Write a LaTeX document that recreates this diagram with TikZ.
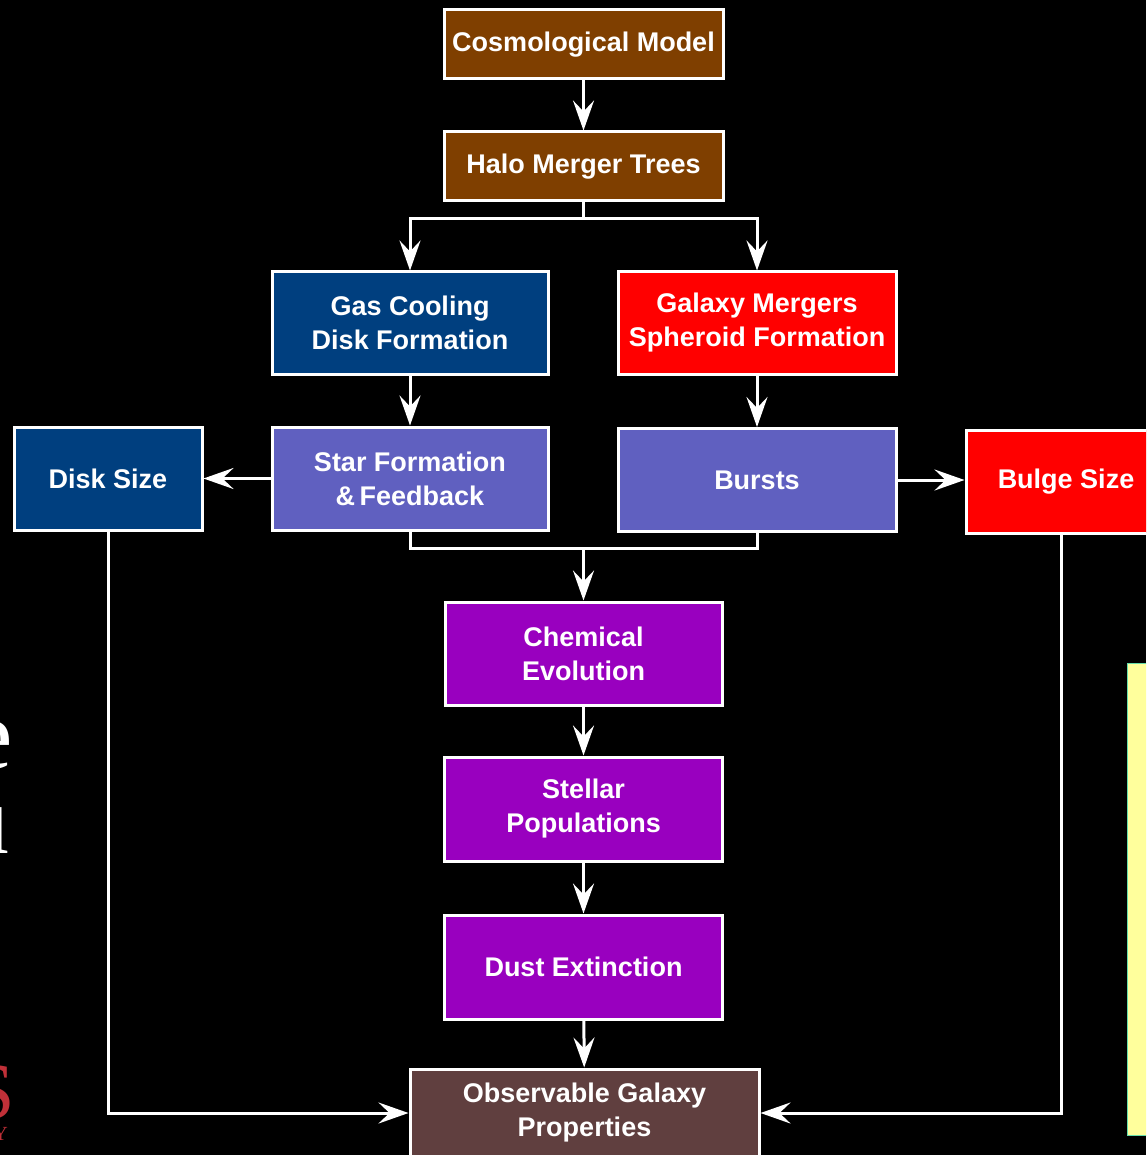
\documentclass[tikz,border=0pt]{standalone}
\usepackage{fontspec}
\setmainfont{Liberation Sans}
\newfontfamily\serifface{Liberation Serif}
\usetikzlibrary{arrows.meta}
\definecolor{cbrown}{HTML}{7F3F00}
\definecolor{cdblue}{HTML}{003F7F}
\definecolor{cred}{HTML}{FF0000}
\definecolor{cslate}{HTML}{6060C0}
\definecolor{cpurple}{HTML}{9900BF}
\definecolor{cobs}{HTML}{603F3F}
\definecolor{cyellow}{HTML}{FFFF9C}
\definecolor{cyborder}{HTML}{66DDAA}
\definecolor{cslide}{HTML}{C03038}
\tikzset{
  box/.style={draw=white, line width=3pt, text=white, align=center, inner sep=0pt,
    font=\fontsize{27}{34}\selectfont\bfseries},
  line/.style={draw=white, line width=3pt},
  arr/.style={line, -{Stealth[length=30pt, width=21pt, inset=11pt]}},
  frag/.style={anchor=base east, inner sep=0pt, text depth=0pt},
}
\begin{document}
\begin{tikzpicture}[x=1pt, y=-1pt]
\clip (0,0) rectangle (1146,1155);
\fill[black] (0,0) rectangle (1146,1155);
% cropped slide fragments
\node[frag, text=white, font=\serifface\fontsize{100}{100}\selectfont] (fe) at (13,768) {e};
\node[frag, text=white, font=\serifface\fontsize{100}{100}\selectfont, text height=48pt] (fu) at (10,853) {u};
\node[frag, text=cslide, font=\serifface\fontsize{80}{80}\selectfont] (fs) at (15,1118) {S};
\node[frag, text=cslide, font=\serifface\fontsize{20}{20}\selectfont, text height=14pt] (fy) at (8,1140) {Y};
\filldraw[fill=cyellow, draw=cyborder, line width=1pt] (1127.5,663.5) rectangle (1150,1135.5);
% nodes
\node[box, fill=cbrown, minimum width=279pt, minimum height=69pt] (cosmo) at (583.5,44.5) {Cosmological Model};
\node[box, fill=cbrown, minimum width=279pt, minimum height=69pt] (halo) at (583.5,166.5) {Halo Merger Trees};
\node[box, fill=cdblue, minimum width=276pt, minimum height=102pt] (gas) at (410,323) {Gas Cooling\\Disk Formation};
\node[box, fill=cred, minimum width=278pt, minimum height=102pt] (merg) at (757,323) {Galaxy Mergers\\Spheroid Formation};
\node[box, fill=cdblue, minimum width=188pt, minimum height=103pt] (disk) at (108,478.5) {Disk Size};
\node[box, fill=cslate, minimum width=276pt, minimum height=103pt] (sf) at (410,478.5) {Star Formation\\\&\,Feedback};
\node[box, fill=cslate, minimum width=278pt, minimum height=103pt] (bursts) at (757,480) {Bursts};
\node[box, fill=cred, minimum width=200pt, minimum height=103pt] (bulge) at (1066,481.5) {Bulge Size};
\node[box, fill=cpurple, minimum width=277pt, minimum height=103pt] (chem) at (583.5,653.5) {Chemical\\Evolution};
\node[box, fill=cpurple, minimum width=278pt, minimum height=104pt] (stel) at (583.5,809) {Stellar\\Populations};
\node[box, fill=cpurple, minimum width=278pt, minimum height=104pt] (dust) at (583.5,967) {Dust Extinction};
\node[box, fill=cobs, minimum width=349pt, minimum height=88pt] (obs) at (584.5,1113) {Observable Galaxy\\Properties};
% connectors
\draw[arr] (cosmo) -- (halo);
\draw[arr] (halo.south) -- ++(0,16) -| (gas.north);
\draw[arr] (halo.south) -- ++(0,16) -| (merg.north);
\draw[arr] (gas) -- (sf);
\draw[arr] (merg) -- (bursts);
\draw[arr] (sf.west) -- (sf.west -| disk.east);
\draw[arr] (bursts.east) -- (bursts.east -| bulge.west);
\coordinate (join) at (583.5,548);
\draw[line] (sf.south) |- (join) -| (bursts.south);
\draw[arr] (join) -- (chem.north);
\draw[arr] (chem) -- (stel);
\draw[arr] (stel) -- (dust);
\draw[arr] (dust) -- (obs);
\draw[arr] (disk.south) |- (obs.west);
\draw[arr] (bulge.south -| 1061,0) |- (obs.east);
\end{tikzpicture}
\end{document}
